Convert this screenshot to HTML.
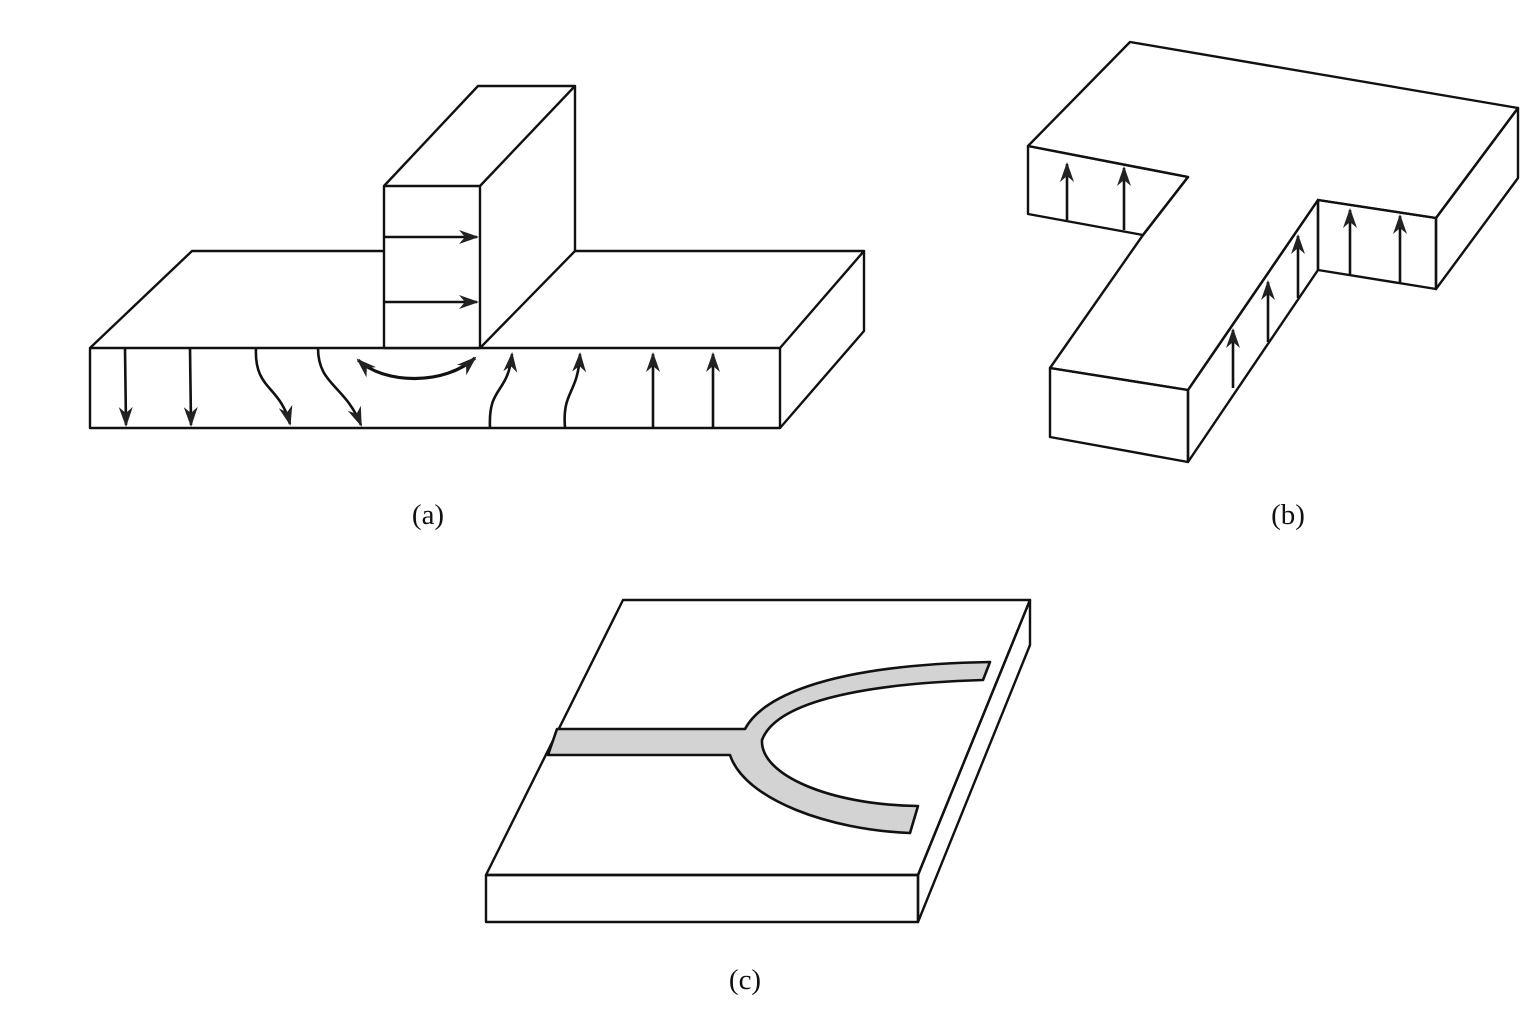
<!DOCTYPE html>
<html><head><style>body{margin:0;background:#fff}svg{display:block}</style></head><body>
<svg width="1536" height="1024" viewBox="0 0 1536 1024" xmlns="http://www.w3.org/2000/svg">
<defs>
<marker id="ahb" viewBox="0 0 10 10" refX="9" refY="5" markerWidth="20" markerHeight="20" markerUnits="userSpaceOnUse" orient="auto-start-reverse">
<path d="M0,1.5 L10,5 L0,8.5 L3,5 Z" fill="#222"/></marker>
</defs>
<g fill="none" stroke="#111" stroke-width="2.4" stroke-linejoin="round">
<!-- (a) -->
<rect x="90" y="348" width="690" height="80"/>
<polyline points="90,348 192,251 384,251"/>
<polyline points="575,251 864,251 780,348"/>
<polyline points="864,251 864,331 780,428"/>
<rect x="384" y="186" width="96" height="162" fill="#fff"/>
<polyline points="384,186 478,86 575,86 480,186"/>
<polyline points="575,86 575,251 480,348"/>
<g stroke-width="2.6" marker-end="url(#ahb)">
<line x1="384" y1="237" x2="477" y2="237"/>
<line x1="384" y1="302" x2="477" y2="302"/>
<line x1="125" y1="348" x2="126" y2="425"/>
<line x1="190" y1="348" x2="191" y2="425"/>
<path d="M256,348 C254,390 280,385 290,424"/>
<path d="M318,348 C318,385 345,385 361,425"/>
<path d="M490,428 C488,385 508,395 512,354"/>
<path d="M565,428 C562,390 578,395 580,354"/>
<line x1="653" y1="428" x2="653" y2="354"/>
<line x1="713" y1="428" x2="713" y2="354"/>
<path d="M358,360 C385,385 445,385 475,358" stroke-width="3.2" marker-start="url(#ahb)"/>
</g>
<!-- (b) -->
<polygon points="1028,146 1130,42 1518,108 1436,218 1318,200 1188,390 1050,368 1143,235 1188,177"/>
<polygon points="1028,146 1188,177 1143,235 1028,214"/>
<polygon points="1050,368 1188,390 1188,462 1050,437"/>
<polygon points="1188,390 1318,200 1318,270 1188,462"/>
<polygon points="1318,200 1436,218 1436,289 1318,270"/>
<polygon points="1436,218 1518,108 1518,178 1436,289"/>
<g stroke-width="2.6" marker-end="url(#ahb)">
<line x1="1067" y1="220" x2="1067" y2="164"/>
<line x1="1124" y1="230" x2="1124" y2="168"/>
<line x1="1350" y1="275" x2="1350" y2="210"/>
<line x1="1400" y1="283" x2="1400" y2="216"/>
<line x1="1233" y1="388" x2="1233" y2="330"/>
<line x1="1268" y1="342" x2="1268" y2="282"/>
<line x1="1298" y1="298" x2="1298" y2="236"/>
</g>
<!-- (c) -->
<polygon points="623,600 1030,600 918,875 486,875"/>
<rect x="486" y="875" width="432" height="47"/>
<polygon points="1030,600 1030,645 918,922 918,875"/>
<path d="M557,729 L745,729 C760,700 820,665 990,662 L983,680 C850,684 775,705 762,740 C760,775 830,805 918,806 L910,833 C830,830 745,800 730,755 L548,755 Z" fill="#d3d3d3" stroke-width="2.6"/>
</g>
<g font-family="Liberation Serif, serif" font-size="29" fill="#111" text-anchor="middle">
<text x="428" y="524">(a)</text>
<text x="1288" y="524">(b)</text>
<text x="745" y="989">(c)</text>
</g>
</svg>
</body></html>
